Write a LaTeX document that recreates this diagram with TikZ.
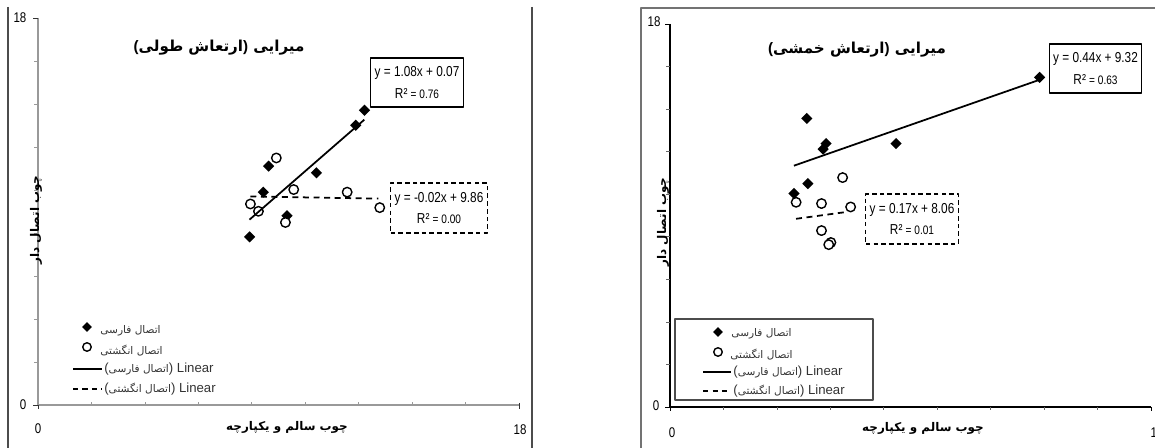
\documentclass[tikz,border=0pt]{standalone}
\usepackage{fontspec}
\setmainfont{Liberation Sans}
\newfontfamily\narrowfont[FakeStretch=0.82]{Liberation Sans}
\newfontfamily\arabicfont[Script=Arabic]{DejaVu Sans}
\usetikzlibrary{shapes.geometric}
\TeXXeTstate=1

\begin{document}
\begin{tikzpicture}[x=0.02cm, y=-0.02cm, line join=round,
    fa/.style={diamond, fill=black, inner sep=0pt, minimum size=0.23cm},
    en/.style={circle, draw=black, line width=0.8pt, fill=white, inner sep=0pt, minimum size=0.19cm},
    eqbox/.style={draw=black, line width=0.8pt, fill=white, minimum width=1.85cm, minimum height=0.98cm,
        align=center, inner sep=1pt, font=\narrowfont\fontsize{8.2}{12}\selectfont},
    ticklbl/.style={font=\narrowfont\fontsize{8}{9}\selectfont, inner sep=0pt},
    titre/.style={font=\arabicfont\bfseries\fontsize{8.6}{10}\selectfont, inner sep=0pt},
    axelbl/.style={font=\arabicfont\bfseries\fontsize{6.8}{8}\selectfont, inner sep=0pt},
    leg/.style={font=\fontsize{7.5}{9}\selectfont, text=black!80, inner sep=0pt},
    legar/.style={font=\arabicfont\fontsize{6}{7}\selectfont, text=black!80, inner sep=0pt}]

    \useasboundingbox (0,0) rectangle (1155,448);

    % Cadres
    \draw[black!70, line width=0.6pt] (8,7) -- (8,448);
    \draw[black!70, line width=0.6pt] (532,7) -- (532,448);
    \draw[black!55, line width=0.6pt] (641,448) -- (641,8) -- (1155,8);

    % Graphique de gauche (ارتعاش طولی)
    \begin{scope}[shift={(38,405)}, xscale=26.72, yscale=-21.5]
        \draw[black!40, line width=0.6pt] (0,18) -- (0,0) -- (18,0);
        \foreach \i in {2,4,...,16} {
            \draw[black!40] (\i,0) -- (\i,0.15);
            \draw[black!40] (0,\i) -- (-0.15,\i);
        }
        \draw[black!80] (0,18) -- (-0.2,18); % bout d'axe
        \draw[black!80] (0,0) -- (-0.2,0);
        \draw[black!80] (0,0) -- (0,-0.2);
        \draw[black!80] (18,0.1) -- (18,-0.2);

        % points اتصال فارسی
        \node[fa] (faL1) at (12.22,13.71) {};
        \node[fa] (faL2) at (11.89,13.01) {};
        \node[fa] (faL3) at (8.63,11.11) {};
        \node[fa] (faL4) at (10.42,10.80) {};
        \node[fa] (faL5) at (8.43,9.90) {};
        \node[fa] (faL6) at (9.32,8.80) {};
        \node[fa] (faL7) at (7.92,7.82) {};

        % points اتصال انگشتی
        \node[en] (enL1) at (8.92,11.49) {};
        \node[en] (enL2) at (9.57,10.02) {};
        \node[en] (enL3) at (11.57,9.90) {};
        \node[en] (enL4) at (7.95,9.35) {};
        \node[en] (enL5) at (8.25,9.01) {};
        \node[en] (enL6) at (9.26,8.49) {};
        \node[en] (enL7) at (12.79,9.18) {};

        % droites de tendance
        \coordinate (tfaL1) at (7.92,8.62);
        \coordinate (tfaL2) at (12.22,13.27);
        \coordinate (tenL1) at (7.95,9.70);
        \coordinate (tenL2) at (12.75,9.60);
        \draw[line width=1pt] (tfaL1) -- (tfaL2);
        \draw[line width=1pt, dash pattern=on 3.4pt off 2.6pt] (tenL1) -- (tenL2);
    \end{scope}

    % Graphique de droite (ارتعاش خمشی)
    \begin{scope}[shift={(670,407)}, xscale=26.72, yscale=-21.28]
        \draw[black, line width=0.6pt] (0,18) -- (0,0) -- (18,0);
        \foreach \i in {2,4,...,16} {
            \draw[black!60] (\i,0) -- (\i,-0.15);
            \draw[black!60] (0,\i) -- (-0.15,\i);
        }
        \draw (0,18) -- (-0.2,18); % bout d'axe
        \draw (0,0) -- (-0.2,0);
        \draw (0,0) -- (0,-0.2);
        \draw (18,0) -- (18,-0.2);

        % points اتصال فارسی
        \node[fa] (faR1) at (13.83,15.49) {};
        \node[fa] (faR2) at (5.12,13.56) {};
        \node[fa] (faR3) at (5.84,12.38) {};
        \node[fa] (faR4) at (5.73,12.12) {};
        \node[fa] (faR5) at (8.46,12.38) {};
        \node[fa] (faR6) at (5.16,10.50) {};
        \node[fa] (faR7) at (4.64,10.03) {};

        % points اتصال انگشتی
        \node[en] (enR1) at (6.46,10.78) {};
        \node[en] (enR2) at (4.72,9.62) {};
        \node[en] (enR3) at (5.67,9.56) {};
        \node[en] (enR4) at (6.76,9.40) {};
        \node[en] (enR5) at (5.67,8.29) {};
        \node[en] (enR6) at (6.02,7.73) {};
        \node[en] (enR7) at (5.94,7.63) {};

        % droites de tendance
        \coordinate (tfaR1) at (4.64,11.36);
        \coordinate (tfaR2) at (13.83,15.40);
        \coordinate (tenR1) at (4.72,8.86);
        \coordinate (tenR2) at (6.60,9.18);
        \draw[line width=1pt] (tfaR1) -- (tfaR2);
        \draw[line width=1pt, dash pattern=on 3.4pt off 2.6pt] (tenR1) -- (tenR2);
    \end{scope}

    % Etiquettes des axes
    \node[ticklbl] (yMaxL) at (20,18) {18};
    \node[ticklbl] (yMinL) at (23,405) {0};
    \node[ticklbl] (xMinL) at (38,429) {0};
    \node[ticklbl] (xMaxL) at (520,430) {18};
    \node[ticklbl] (yMaxR) at (654,22) {18};
    \node[ticklbl] (yMinR) at (656,406) {0};
    \node[ticklbl] (xMinR) at (672,433) {0};
    \node[ticklbl] (xMaxR) at (1157,433) {18};

    \node[axelbl] (xtitL) at (287,427) {\beginR چوب سالم و یکپارچه\endR};
    \node[axelbl] (xtitR) at (923,428) {\beginR چوب سالم و یکپارچه\endR};
    \node[axelbl, rotate=90] (ytitL) at (36,220) {\beginR چوب اتصال دار\endR};
    \node[axelbl, rotate=90] (ytitR) at (663,222) {\beginR چوب اتصال دار\endR};

    % Titres
    \node[titre] (titreL) at (219,48)
        {{\normalfont\bfseries(}\beginR ارتعاش طولی\endR{\normalfont\bfseries)} میرایی};
    \node[titre] (titreR) at (857,50)
        {{\normalfont\bfseries(}\beginR ارتعاش خمشی\endR{\normalfont\bfseries)} میرایی};

    % Equations
    \node[eqbox] (eqfaL) at (417,82.5) {y = 1.08x + 0.07\\R² {\fontsize{7}{12}\selectfont= 0.76}};
    \node[eqbox, dash pattern=on 2.6pt off 1.8pt, minimum width=1.93cm, minimum height=1cm] (eqenL) at (439,208)
        {y = -0.02x + 9.86\\R² {\fontsize{7}{12}\selectfont= 0.00}};
    \node[eqbox] (eqfaR) at (1095.5,68.5) {y = 0.44x + 9.32\\R² {\fontsize{7}{12}\selectfont= 0.63}};
    \node[eqbox, dash pattern=on 2.6pt off 1.8pt, minimum height=1cm] (eqenR) at (912,219)
        {y = 0.17x + 8.06\\R² {\fontsize{7}{12}\selectfont= 0.01}};

    % Legende de gauche
    \node[fa, minimum size=0.2cm] (legfaL) at (87,327) {};
    \node[legar, anchor=east] (legfaLt) at (161,331) {\beginR اتصال فارسی\endR};
    \node[en, minimum size=0.17cm] (legenL) at (87,347) {};
    \node[legar, anchor=east] (legenLt) at (163,351) {\beginR اتصال انگشتی\endR};
    \coordinate (legaL1) at (73,369);
    \coordinate (legaL2) at (102,369);
    \draw[line width=0.8pt] (legaL1) -- (legaL2);
    \node[leg, anchor=west] (legaLt) at (104,369) {({\arabicfont\fontsize{6}{7}\selectfont\beginR اتصال فارسی\endR}) Linear};
    \coordinate (legbL1) at (73,389);
    \coordinate (legbL2) at (102,389);
    \draw[line width=0.8pt, dash pattern=on 3pt off 2.4pt] (legbL1) -- (legbL2);
    \node[leg, anchor=west] (legbLt) at (104,389) {({\arabicfont\fontsize{6}{7}\selectfont\beginR اتصال انگشتی\endR}) Linear};

    % Legende de droite
    \draw[black!70, line width=0.6pt] (675,319) rectangle (873,400);
    \node[fa, minimum size=0.2cm] (legfaR) at (718,332) {};
    \node[legar, anchor=east] (legfaRt) at (792,334) {\beginR اتصال فارسی\endR};
    \node[en, minimum size=0.17cm] (legenR) at (718,352) {};
    \node[legar, anchor=east] (legenRt) at (793,355) {\beginR اتصال انگشتی\endR};
    \coordinate (legaR1) at (703,372);
    \coordinate (legaR2) at (731,372);
    \draw[line width=0.8pt] (legaR1) -- (legaR2);
    \node[leg, anchor=west] (legaRt) at (733,372) {({\arabicfont\fontsize{6}{7}\selectfont\beginR اتصال فارسی\endR}) Linear};
    \coordinate (legbR1) at (703,391);
    \coordinate (legbR2) at (731,391);
    \draw[line width=0.8pt, dash pattern=on 3pt off 2.4pt] (legbR1) -- (legbR2);
    \node[leg, anchor=west] (legbRt) at (733,391) {({\arabicfont\fontsize{6}{7}\selectfont\beginR اتصال انگشتی\endR}) Linear};

\end{tikzpicture}
\end{document}
